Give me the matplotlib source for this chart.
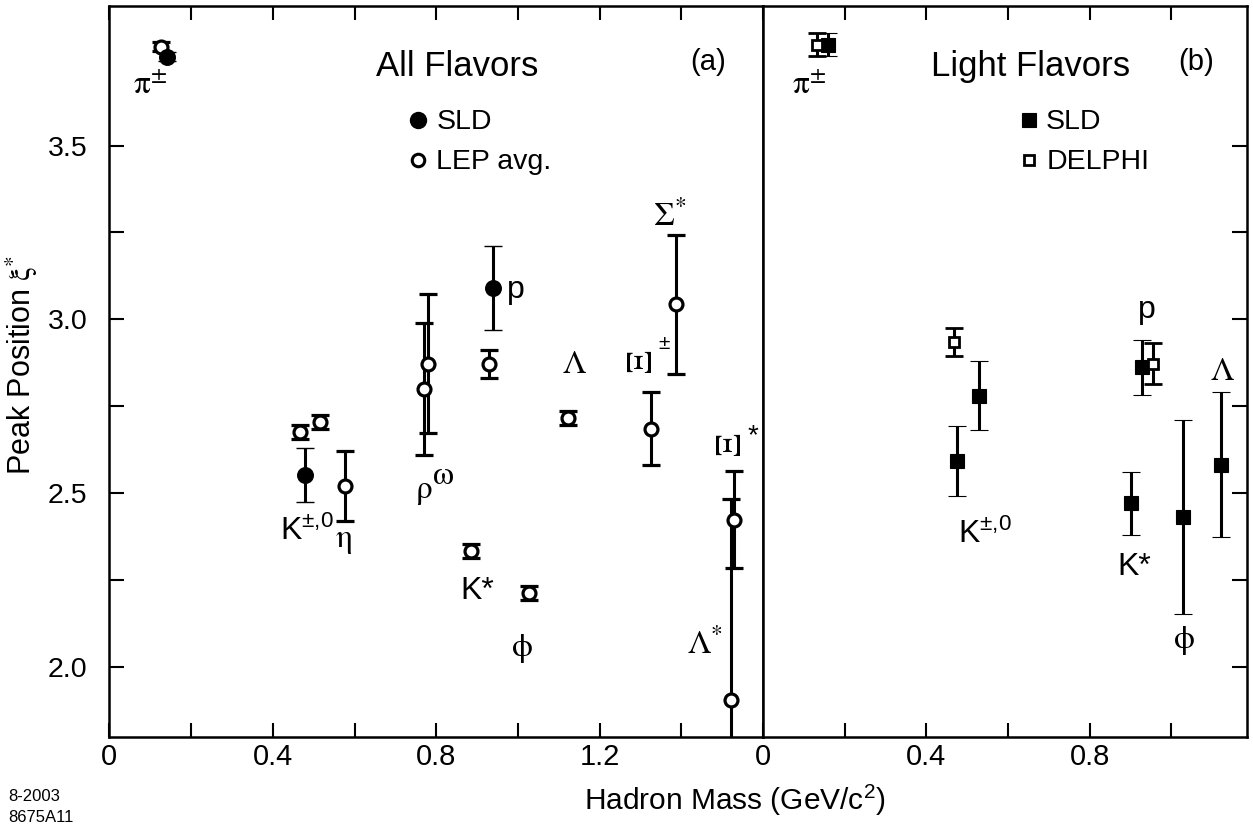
import matplotlib
matplotlib.use('Agg')
import matplotlib.pyplot as plt
from matplotlib.ticker import FixedLocator, FixedFormatter

plt.rcParams['font.family'] = ['Liberation Sans', 'DejaVu Sans']
plt.rcParams['mathtext.fontset'] = 'custom'
plt.rcParams['mathtext.rm'] = 'Liberation Sans'
plt.rcParams['mathtext.it'] = 'Liberation Sans:italic'
plt.rcParams['mathtext.sf'] = 'Liberation Sans'
plt.rcParams['mathtext.bf'] = 'Liberation Sans:bold'

# ---------------- data : panel (a) All Flavors ----------------
sld_all_mass = [0.142, 0.478, 0.940]
sld_all_peak = [3.756, 2.553, 3.090]
sld_all_err = [0.012, 0.077, 0.120]

lep_mass = [0.127, 0.467, 0.515, 0.577, 0.771, 0.781, 0.886, 0.930,
            1.026, 1.122, 1.326, 1.387, 1.521, 1.530]
lep_peak = [3.785, 2.677, 2.706, 2.520, 2.800, 2.872, 2.333, 2.872,
            2.212, 2.715, 2.686, 3.043, 1.904, 2.424]
lep_err = [0.012, 0.020, 0.020, 0.100, 0.190, 0.200, 0.020, 0.040,
           0.020, 0.020, 0.104, 0.200, 0.578, 0.140]

# ---------------- data : panel (b) Light Flavors ----------------
sld_light_mass = [0.160, 0.476, 0.528, 0.900, 0.927, 1.029, 1.122]
sld_light_peak = [3.790, 2.592, 2.781, 2.471, 2.862, 2.432, 2.582]
sld_light_err = [0.033, 0.100, 0.100, 0.090, 0.080, 0.279, 0.209]

delphi_mass = [0.131, 0.468, 0.956]
delphi_peak = [3.790, 2.935, 2.873]
delphi_err = [0.033, 0.040, 0.060]

# ---------------- axis ticks ----------------
xticks_a = [0, 0.4, 0.8, 1.2]
xticklabels_a = ["0", "0.4", "0.8", "1.2"]
xminor_a = [0.2, 0.6, 1.0, 1.4]
xticks_b = [0, 0.4, 0.8]
xticklabels_b = ["0", "0.4", "0.8"]
xminor_b = [0.2, 0.6, 1.0]
yticks = [2.0, 2.5, 3.0, 3.5]
yticklabels = ["2.0", "2.5", "3.0", "3.5"]
yminor = [2.25, 2.75, 3.25]

W, H = 1253, 831
fig = plt.figure(figsize=(W / 100, H / 100), dpi=100)


def frac(x0, y0, x1, y1):
    return [x0 / W, 1 - y1 / H, (x1 - x0) / W, (y1 - y0) / H]


axA = fig.add_axes(frac(109.4, 5.5, 763, 736.5))
axB = fig.add_axes(frac(763, 5.5, 1247, 736.5))

eb = dict(linestyle='none', ecolor='black', elinewidth=2.2, capsize=6.5, capthick=2.2)

# panel (a)
axA.errorbar(lep_mass, lep_peak, yerr=lep_err, fmt='o', ms=9.3, mfc='white',
             mec='black', mew=2.3, **eb)
axA.errorbar(sld_all_mass, sld_all_peak, yerr=sld_all_err, fmt='o', ms=11.2,
             mfc='black', mec='black', mew=1, **eb)

# panel (b)
axB.errorbar(sld_light_mass, sld_light_peak, yerr=sld_light_err, fmt='s', ms=10,
             mfc='black', mec='black', mew=0.8, **eb)
axB.errorbar(delphi_mass, delphi_peak, yerr=delphi_err, fmt='s', ms=7.6,
             mfc='white', mec='black', mew=2.0, **eb)

axA.set_xlim(0, 1.6)
axB.set_xlim(0, 1.185)
for ax in (axA, axB):
    ax.set_ylim(1.8, 3.903)
    ax.yaxis.set_major_locator(FixedLocator(yticks))
    ax.yaxis.set_minor_locator(FixedLocator(yminor))
    for s in ax.spines.values():
        s.set_linewidth(1.8)
    ax.tick_params(axis='x', which='both', direction='in', top=True, bottom=True,
                   length=10, width=1.5, labelsize=21, pad=5)
    ax.tick_params(axis='y', which='both', direction='in', length=11, width=1.5,
                   labelsize=20.5, pad=16)

axA.xaxis.set_major_locator(FixedLocator(xticks_a))
axA.xaxis.set_major_formatter(FixedFormatter(xticklabels_a))
axA.xaxis.set_minor_locator(FixedLocator(xminor_a))
axA.yaxis.set_major_formatter(FixedFormatter(yticklabels))
axA.tick_params(axis='y', which='both', left=True, right=False)

axB.xaxis.set_major_locator(FixedLocator(xticks_b))
axB.xaxis.set_major_formatter(FixedFormatter(xticklabels_b))
axB.xaxis.set_minor_locator(FixedLocator(xminor_b))
axB.tick_params(axis='y', which='both', left=False, right=True, labelleft=False)

# ---------------- particle labels ----------------
GS = 24


def glab(ax, x, y, s, size=GS, **kw):
    ax.text(x, y, s, fontsize=size, math_fontfamily='stix', **kw)


def slab(ax, x, y, s, size=23, **kw):
    ax.text(x, y, s, fontsize=size, **kw)


# panel (a)
glab(axA, 0.058, 3.652, r'$\mathrm{\pi}^{\pm}$', ha='left', va='baseline')
slab(axA, 0.417, 2.365, r'K$^{\pm{,}0}$', ha='left', va='baseline')
glab(axA, 0.552, 2.345, r'$\mathrm{\eta}$', ha='left', va='baseline')
glab(axA, 0.749, 2.486, r'$\mathrm{\rho}$', ha='left', va='baseline')
glab(axA, 0.790, 2.525, r'$\mathrm{\omega}$', ha='left', va='baseline')
slab(axA, 0.973, 3.062, 'p', ha='left', va='baseline')
glab(axA, 1.107, 2.846, r'$\Lambda$', ha='left', va='baseline')
glab(axA, 1.305, 2.877, r'$\Xi$', size=26, ha='center', va='center', rotation=90)
slab(axA, 1.357, 2.932, '±', size=15, ha='center', va='center')
glab(axA, 1.331, 3.270, r'$\Sigma^{*}$', ha='left', va='baseline')
glab(axA, 1.523, 2.640, r'$\Xi$', size=26, ha='center', va='center', rotation=90)
slab(axA, 1.576, 2.665, '*', size=20, ha='center', va='center')
glab(axA, 1.414, 2.040, r'$\Lambda^{*}$', ha='left', va='baseline')
slab(axA, 0.858, 2.196, 'K*', ha='left', va='baseline')
glab(axA, 1.011, 2.054, r'$\mathrm{\phi}$', ha='center', va='center')

# panel (b)
glab(axB, 0.071, 3.652, r'$\mathrm{\pi}^{\pm}$', ha='left', va='baseline')
slab(axB, 0.477, 2.356, r'K$^{\pm{,}0}$', ha='left', va='baseline')
slab(axB, 0.918, 3.004, 'p', ha='left', va='baseline')
glab(axB, 1.094, 2.826, r'$\Lambda$', ha='left', va='baseline')
slab(axB, 0.867, 2.264, 'K*', ha='left', va='baseline')
glab(axB, 1.030, 2.077, r'$\mathrm{\phi}$', ha='center', va='center')

# ---------------- titles and legends ----------------
axA.text(0.5326, 0.903, 'All Flavors', transform=axA.transAxes, fontsize=25,
         ha='center', va='baseline')
axA.text(0.9158, 0.9118, '(a)', transform=axA.transAxes, fontsize=21,
         ha='center', va='baseline')
axA.plot([0.4725], [0.8430], 'o', ms=11.5, mfc='black', mec='black', mew=1,
         transform=axA.transAxes)
axA.plot([0.4725], [0.7890], 'o', ms=9, mfc='white', mec='black', mew=2.2,
         transform=axA.transAxes)
axA.text(0.5000, 0.8310, 'SLD', transform=axA.transAxes, fontsize=20.5,
         ha='left', va='baseline')
axA.text(0.5000, 0.7770, 'LEP avg.', transform=axA.transAxes, fontsize=20.5,
         ha='left', va='baseline')

axB.text(0.5537, 0.903, 'Light Flavors', transform=axB.transAxes, fontsize=25,
         ha='center', va='baseline')
axB.text(0.8957, 0.9118, '(b)', transform=axB.transAxes, fontsize=21,
         ha='center', va='baseline')
axB.plot([0.5490], [0.8430], 's', ms=10, mfc='black', mec='black', mew=0.8,
         transform=axB.transAxes)
axB.plot([0.5490], [0.7890], 's', ms=7.5, mfc='white', mec='black', mew=2.0,
         transform=axB.transAxes)
axB.text(0.5850, 0.8310, 'SLD', transform=axB.transAxes, fontsize=20.5,
         ha='left', va='baseline')
axB.text(0.5850, 0.7770, 'DELPHI', transform=axB.transAxes, fontsize=20.5,
         ha='left', va='baseline')

# ---------------- axis titles and stamp ----------------
fig.text(735 / W, 1 - 810 / H, r'Hadron Mass (GeV/c$^{2}$)', fontsize=21.5,
         ha='center', va='baseline')
fig.text(22 / W, 1 - 365 / H, r'Peak Position $\mathrm{\xi}^{*}$', fontsize=22,
         rotation=90, ha='center', va='center', math_fontfamily='stix')
fig.text(8 / W, 1 - 801 / H, '8-2003', fontsize=12, ha='left', va='baseline')
fig.text(8 / W, 1 - 822 / H, '8675A11', fontsize=12, ha='left', va='baseline')

fig.savefig('out.png', dpi=100)
